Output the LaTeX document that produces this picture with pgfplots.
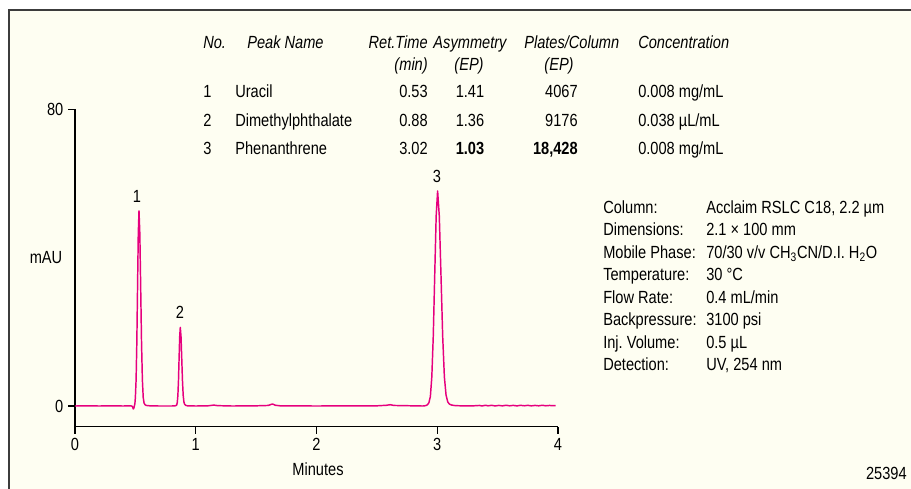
\documentclass[border=0pt]{standalone}
\usepackage{fontspec}
\setmainfont{Liberation Sans}[FakeStretch=0.83]
\usepackage{pgfplots}
\pgfplotsset{compat=1.18}

\definecolor{trace}{RGB}{230,0,126}
\definecolor{paper}{RGB}{254,254,242}
\definecolor{framegray}{RGB}{60,60,60}

\newcommand{\txt}{\fontsize{13.2pt}{15pt}\selectfont}
\frenchspacing

\begin{document}
\begin{tikzpicture}[font=\txt]
% page, cream panel and its frame (1 unit = 1 px)
\begin{scope}[x=0.75pt,y=-0.75pt]
  \path[use as bounding box, fill=white] (0,0) rectangle (911,489);
  \fill[paper] (9,10) rectangle (911,489);
  \draw[framegray, line width=1.4pt] (9,489) -- (9,10) -- (911,10);
\end{scope}

\begin{axis}[
  at={(56.25pt,-320.025pt)}, anchor=south west,
  scale only axis, width=362.25pt, height=238.05pt,
  xmin=0, xmax=4, ymin=-5.58, ymax=80,
  axis x line*=bottom, axis y line*=left,
  axis line style={line width=0.9pt, -},
  xtick={0,1,2,3,4}, ytick={0,80},
  tick align=outside, major tick length=5.25pt,
  tick style={line width=0.9pt, black},
  ticklabel style={font=\txt},
  /pgf/number format/assume math mode=true,
]
\addplot[trace, line width=1.1pt, line join=round] coordinates {
 (0,0) (0.1,0.05) (0.2,0) (0.3,0.05) (0.4,0) (0.45,0.05) (0.47,0)
 (0.478,-0.3) (0.483,-0.8) (0.488,-0.5) (0.492,0.1) (0.496,0.6)
 (0.500,2.3) (0.506,7.1) (0.512,17.1) (0.518,31.9) (0.524,46.4) (0.53,52.6)
 (0.537,46.4) (0.544,31.9) (0.551,17.1) (0.558,7.1) (0.565,2.3) (0.572,0.8)
 (0.58,0.35) (0.59,0.15) (0.62,0.05) (0.7,0) (0.8,0) (0.83,0.05)
 (0.842,0.24) (0.847,0.93) (0.852,2.87) (0.857,6.88) (0.862,12.86) (0.867,18.7)
 (0.872,21.2) (0.878,18.7) (0.884,12.86) (0.890,6.88) (0.896,2.87) (0.902,1.1)
 (0.908,0.45) (0.916,0.2) (0.93,0.05) (1.0,0) (1.1,0.05) (1.15,0.25) (1.18,0.1)
 (1.3,0) (1.5,0.05) (1.6,0.15) (1.635,0.55) (1.66,0.2) (1.7,0.05) (2.0,0)
 (2.3,0.05) (2.5,0.05) (2.58,0.2) (2.61,0.35) (2.64,0.15) (2.8,0.05) (2.88,0)
 (2.905,0.1) (2.919,0.35) (2.931,0.9) (2.943,2.55) (2.955,7.85) (2.967,18.8)
 (2.979,35.2) (2.991,51.2) (3.003,58) (3.017,51.2) (3.031,35.2) (3.045,18.8)
 (3.059,7.85) (3.073,2.9) (3.087,1.1) (3.101,0.5) (3.12,0.25) (3.15,0.1)
 (3.2,0.05) (3.3,0.05) (3.35,0.15) (3.37,0.0) (3.40,0.2) (3.42,0.05)
 (3.45,0.18) (3.48,0.02) (3.51,0.16) (3.54,0.04) (3.57,0.2) (3.60,0.05)
 (3.63,0.17) (3.66,0.03) (3.69,0.19) (3.72,0.06) (3.75,0.18) (3.78,0.04)
 (3.81,0.16) (3.84,0.05) (3.87,0.2) (3.90,0.06) (3.93,0.15) (3.96,0.08) (3.98,0.12)
};
\node at (axis cs:0.513,56.4) {1};
\node at (axis cs:0.870,25.2) {2};
\node at (axis cs:2.998,61.8) {3};
\end{axis}

% labels, peak table and conditions (1 unit = 1 px)
\begin{scope}[x=0.75pt,y=-0.75pt, every node/.style={inner sep=0pt, font=\txt}]
  \node at (46,258) {mAU};
  \node at (318,469) {Minutes};
  \node[anchor=east] at (907,473) {25394};

  % table header
  \begin{scope}[every node/.append style={font=\txt\itshape}]
    \node[anchor=base west] at (203,48) {No.};
    \node[anchor=base west] at (247,48) {Peak Name};
    \node[anchor=base east] at (428,48) {Ret.Time};
    \node[anchor=base east] at (428,70) {(min)};
    \node[anchor=base] at (470,48) {Asymmetry};
    \node[anchor=base] at (469,70) {(EP)};
    \node[anchor=base west] at (524,48) {Plates/Column};
    \node[anchor=base] at (559,70) {(EP)};
    \node[anchor=base west] at (638,48) {Concentration};
  \end{scope}

  % table rows
  \foreach \y/\n/\name/\rt/\asym/\plates/\conc in {
      97/1/Uracil/0.53/1.41/4067/0.008 mg\slash mL,
      126/2/Dimethylphthalate/0.88/1.36/9176/0.038 µL\slash mL}{
    \node[anchor=base west] at (203,\y) {\n};
    \node[anchor=base west] at (235,\y) {\name};
    \node[anchor=base east] at (428,\y) {\rt};
    \node[anchor=base] at (470,\y) {\asym};
    \node[anchor=base east] at (578,\y) {\plates};
    \node[anchor=base west] at (638,\y) {\conc};
  }
  \node[anchor=base west] at (203,154) {3};
  \node[anchor=base west] at (235,154) {Phenanthrene};
  \node[anchor=base east] at (428,154) {3.02};
  \node[anchor=base] at (470,154) {\bfseries 1.03};
  \node[anchor=base east] at (578,154) {\bfseries 18,428};
  \node[anchor=base west] at (638,154) {0.008 mg/mL};

  % chromatographic conditions
  \foreach \y/\lab/\val in {
      213/Column:/{Acclaim RSLC C18, 2.2 µm},
      235/Dimensions:/{2.1 × 100 mm},
      258/Mobile Phase:/{70/30 v/v CH\textsubscript{3}CN/D.I. H\textsubscript{2}O},
      280/Temperature:/{30 °C},
      303/Flow Rate:/{0.4 mL/min},
      325/Backpressure:/{3100 psi},
      348/Inj. Volume:/{0.5 µL},
      370/Detection:/{UV, 254 nm}}{
    \node[anchor=base west] at (603,\y) {\lab};
    \node[anchor=base west] at (706,\y) {\val};
  }
\end{scope}
\end{tikzpicture}
\end{document}
